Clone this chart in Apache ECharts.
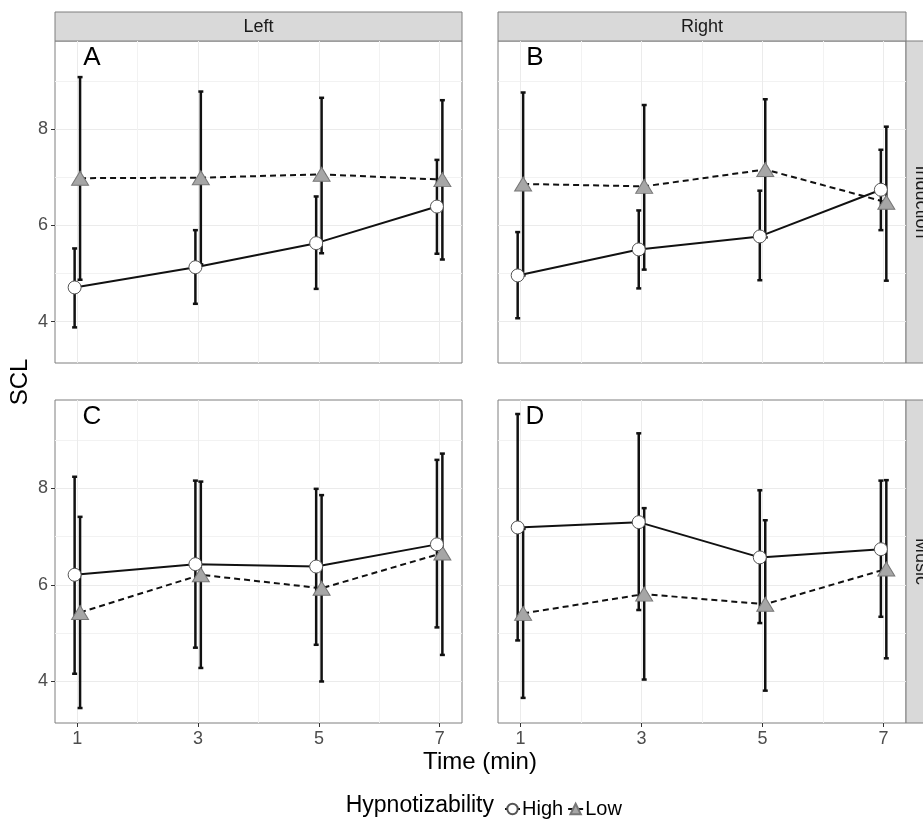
<!DOCTYPE html>
<html>
<head>
<meta charset="utf-8">
<script src="https://cdn.jsdelivr.net/npm/echarts@6/dist/echarts.min.js"></script>
<style>
  html, body { margin: 0; padding: 0; background: #fff; }
  #chart { width: 923px; height: 820px; }
</style>
</head>
<body>
<div id="chart"></div>
<script>
const times = [1, 3, 5, 7]
const xTicks = [1, 3, 5, 7]
const xMinorTicks = [2, 4, 6]
const yTicks = [4, 6, 8]
const yMinorTicks = [5, 7, 9]
const panelNames = ['A', 'B', 'C', 'D']
const colNames = ['Left', 'Right']
const rowNames = ['Induction', 'Music']

// SCL means with the lower / upper ends of their error bars
const highMeanA = [4.71, 5.13, 5.63, 6.39]
const highLowerA = [3.88, 4.37, 4.68, 5.41]
const highUpperA = [5.52, 5.90, 6.60, 7.36]
const lowMeanA = [6.98, 6.99, 7.06, 6.95]
const lowLowerA = [4.87, 5.19, 5.42, 5.29]
const lowUpperA = [9.08, 8.78, 8.65, 8.60]

const highMeanB = [4.96, 5.50, 5.77, 6.74]
const highLowerB = [4.07, 4.69, 4.86, 5.90]
const highUpperB = [5.86, 6.31, 6.72, 7.57]
const lowMeanB = [6.86, 6.81, 7.16, 6.48]
const lowLowerB = [4.96, 5.08, 5.75, 4.85]
const lowUpperB = [8.76, 8.50, 8.62, 8.05]

const highMeanC = [6.21, 6.43, 6.38, 6.84]
const highLowerC = [4.16, 4.70, 4.76, 5.12]
const highUpperC = [8.24, 8.16, 7.99, 8.59]
const lowMeanC = [5.43, 6.21, 5.93, 6.66]
const lowLowerC = [3.45, 4.28, 4.00, 4.55]
const lowUpperC = [7.41, 8.14, 7.86, 8.72]

const highMeanD = [7.19, 7.30, 6.57, 6.74]
const highLowerD = [4.85, 5.48, 5.21, 5.34]
const highUpperD = [9.54, 9.14, 7.96, 8.16]
const lowMeanD = [5.41, 5.81, 5.60, 6.33]
const lowLowerD = [3.66, 4.04, 3.81, 4.48]
const lowUpperD = [7.16, 7.59, 7.34, 8.17]

const panelData = [
  { high: [highMeanA, highLowerA, highUpperA], low: [lowMeanA, lowLowerA, lowUpperA] },
  { high: [highMeanB, highLowerB, highUpperB], low: [lowMeanB, lowLowerB, lowUpperB] },
  { high: [highMeanC, highLowerC, highUpperC], low: [lowMeanC, lowLowerC, lowUpperC] },
  { high: [highMeanD, highLowerD, highUpperD], low: [lowMeanD, lowLowerD, lowUpperD] }
]

const dodge = 0.045
const xMin = 0.63
const xMax = 7.37
const yMin = 3.14
const yMax = 9.83

const grids = [
  { left: 55, top: 41, width: 407, height: 322 },
  { left: 498, top: 41, width: 408, height: 322 },
  { left: 55, top: 400, width: 407, height: 323 },
  { left: 498, top: 400, width: 408, height: 323 }
]

const font = 'Liberation Sans, Arial, sans-serif'
const gridColor = '#ebebeb'
const minorGridColor = '#f2f2f2'

const renderErrorBar = (params, api) => {
  const x = api.value(0)
  const top = api.coord([x, api.value(2)])
  const bottom = api.coord([x, api.value(1)])
  const cap = 2.5
  const style = { stroke: '#111', lineWidth: 2.5 }
  return {
    type: 'group',
    children: [
      { type: 'line', shape: { x1: top[0], y1: top[1], x2: bottom[0], y2: bottom[1] }, style },
      { type: 'line', shape: { x1: top[0] - cap, y1: top[1], x2: top[0] + cap, y2: top[1] }, style },
      { type: 'line', shape: { x1: bottom[0] - cap, y1: bottom[1], x2: bottom[0] + cap, y2: bottom[1] }, style }
    ]
  }
}

const xAxes = []
const yAxes = []
const series = []

grids.forEach((g, i) => {
  const bottomRow = i >= 2
  const leftCol = i % 2 === 0

  xAxes.push({
    type: 'value', gridIndex: i, min: xMin, max: xMax,
    axisLine: { show: false },
    axisTick: { show: bottomRow, customValues: xTicks, length: 4, lineStyle: { color: '#333' } },
    axisLabel: { show: bottomRow, customValues: xTicks, margin: 7, fontSize: 18, color: '#4d4d4d', fontFamily: font },
    splitLine: { show: true, lineStyle: { color: gridColor, width: 1 } }
  })
  xAxes.push({
    type: 'value', gridIndex: i, min: xMin, max: xMax,
    axisLine: { show: false },
    axisTick: { show: false, customValues: xMinorTicks },
    axisLabel: { show: false, customValues: xMinorTicks },
    splitLine: { show: true, lineStyle: { color: minorGridColor, width: 1 } }
  })
  yAxes.push({
    type: 'value', gridIndex: i, min: yMin, max: yMax,
    axisLine: { show: false },
    axisTick: { show: leftCol, customValues: yTicks, length: 4, lineStyle: { color: '#333' } },
    axisLabel: { show: leftCol, customValues: yTicks, margin: 7, fontSize: 18, color: '#4d4d4d', fontFamily: font },
    splitLine: { show: true, lineStyle: { color: gridColor, width: 1 } }
  })
  yAxes.push({
    type: 'value', gridIndex: i, min: yMin, max: yMax,
    axisLine: { show: false },
    axisTick: { show: false, customValues: yMinorTicks },
    axisLabel: { show: false, customValues: yMinorTicks },
    splitLine: { show: true, lineStyle: { color: minorGridColor, width: 1 } }
  })

  const d = panelData[i]
  const groupDefs = [
    { name: 'High', vals: d.high, offset: -dodge },
    { name: 'Low', vals: d.low, offset: dodge }
  ]
  groupDefs.forEach(gr => {
    const [mean, lower, upper] = gr.vals
    series.push({
      type: 'custom',
      xAxisIndex: 2 * i,
      yAxisIndex: 2 * i,
      renderItem: renderErrorBar,
      encode: { x: 0, y: [1, 2] },
      data: times.map((t, k) => [t + gr.offset, lower[k], upper[k]]),
      z: 2,
      silent: true
    })
  })
  series.push({
    name: 'High',
    type: 'line',
    xAxisIndex: 2 * i,
    yAxisIndex: 2 * i,
    data: times.map((t, k) => [t - dodge, d.high[0][k]]),
    symbol: 'circle',
    symbolSize: 13,
    showAllSymbol: true,
    lineStyle: { color: '#111', width: 2, type: 'solid' },
    itemStyle: { color: '#fff', borderColor: '#555', borderWidth: 1 },
    z: 4
  })
  series.push({
    name: 'Low',
    type: 'line',
    xAxisIndex: 2 * i,
    yAxisIndex: 2 * i,
    data: times.map((t, k) => [t + dodge, d.low[0][k]]),
    symbol: 'triangle',
    symbolSize: [17, 14],
    showAllSymbol: true,
    lineStyle: { color: '#111', width: 2, type: [6, 4] },
    itemStyle: { color: '#a6a6a6', borderColor: '#777', borderWidth: 1 },
    z: 3
  })
})

const graphics = []
// column strips on top
colNames.forEach((name, c) => {
  const g = grids[c]
  graphics.push({
    type: 'rect', shape: { x: g.left, y: 12, width: g.width, height: 29 },
    style: { fill: '#d9d9d9', stroke: '#7f7f7f', lineWidth: 1 }
  })
  graphics.push({
    type: 'text', x: g.left + g.width / 2, y: 27,
    style: { text: name, fontSize: 18, fill: '#1a1a1a', fontFamily: font, align: 'center', verticalAlign: 'middle' }
  })
})
// row strips on the right
rowNames.forEach((name, r) => {
  const g = grids[2 * r + 1]
  graphics.push({
    type: 'rect', shape: { x: g.left + g.width, y: g.top, width: 30, height: g.height },
    style: { fill: '#d9d9d9', stroke: '#7f7f7f', lineWidth: 1 }
  })
  graphics.push({
    type: 'text', x: g.left + g.width + 15, y: g.top + g.height / 2, rotation: -Math.PI / 2,
    style: { text: name, fontSize: 18, fill: '#1a1a1a', fontFamily: font, align: 'center', verticalAlign: 'middle' }
  })
})
// panel letters
panelNames.forEach((name, i) => {
  const g = grids[i]
  graphics.push({
    type: 'text', x: g.left + 37, y: g.top + 17,
    style: { text: name, fontSize: 26, fill: '#000', fontFamily: font, align: 'center', verticalAlign: 'middle' }
  })
})
graphics.push({
  type: 'text', x: 20, y: 382, rotation: Math.PI / 2,
  style: { text: 'SCL', fontSize: 24, fill: '#000', fontFamily: font, align: 'center', verticalAlign: 'middle' }
})
graphics.push({
  type: 'text', x: 480, y: 762,
  style: { text: 'Time (min)', fontSize: 24, fill: '#000', fontFamily: font, align: 'center', verticalAlign: 'middle' }
})
graphics.push({
  type: 'text', x: 494, y: 806,
  style: { text: 'Hypnotizability', fontSize: 23, fill: '#000', fontFamily: font, align: 'right', verticalAlign: 'middle' }
})

const chart = echarts.init(document.getElementById('chart'), null, { renderer: 'canvas' })
chart.setOption({
  backgroundColor: '#fff',
  animation: false,
  grid: grids.map(g => ({
    ...g,
    show: true,
    backgroundColor: '#fff',
    borderColor: '#7f7f7f',
    borderWidth: 1,
    outerBoundsMode: 'none'
  })),
  xAxis: xAxes,
  yAxis: yAxes,
  legend: {
    data: ['High', 'Low'],
    left: 499,
    top: 794,
    itemWidth: 15,
    itemHeight: 13,
    itemGap: 4,
    textStyle: { fontSize: 20, color: '#000', fontFamily: font, padding: [0, 0, 0, -3] }
  },
  graphic: graphics,
  series
})
</script>
</body>
</html>
